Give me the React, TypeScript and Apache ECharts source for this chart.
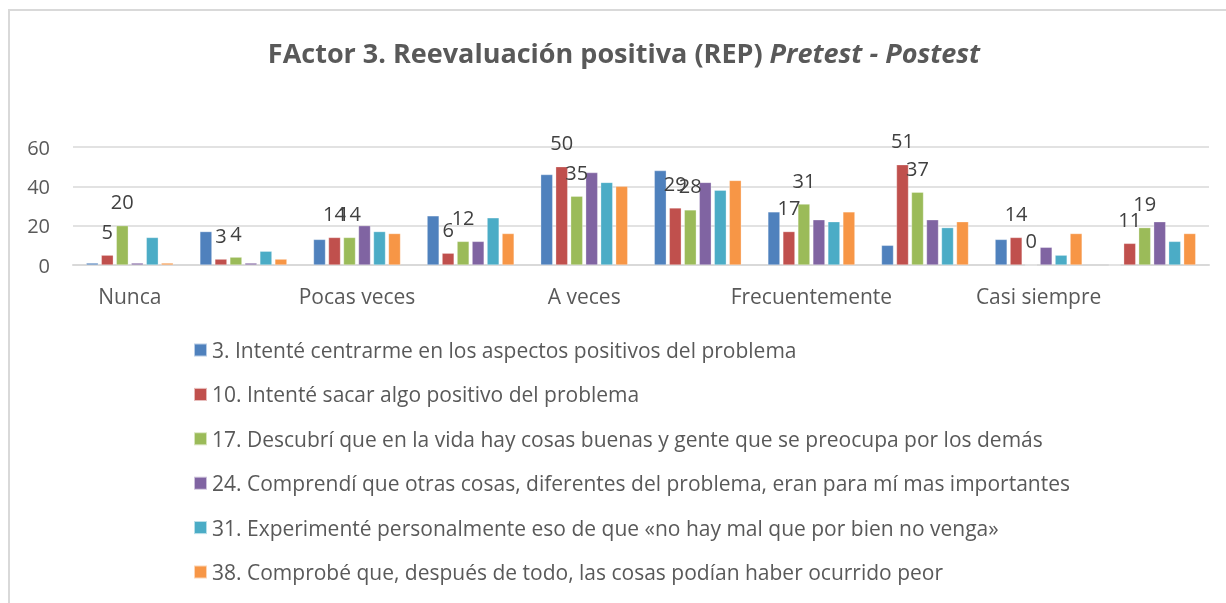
import React, { useEffect, useRef } from "react";
import * as echarts from "echarts";

const categories = ["Nunca", "", "Pocas veces", "", "A veces", "", "Frecuentemente", "", "Casi siempre", ""];
const seriesNames = [
  "3. Intenté centrarme en los aspectos positivos del problema",
  "10. Intenté sacar algo positivo del problema",
  "17. Descubrí que en la vida hay cosas buenas y gente que se preocupa por los demás",
  "24. Comprendí que otras cosas, diferentes del problema, eran para mí mas importantes",
  "31. Experimenté personalmente eso de que «no hay mal que por bien no venga»",
  "38. Comprobé que, después de todo, las cosas podían haber ocurrido peor",
];
const item3 = [1, 17, 13, 25, 46, 48, 27, 10, 13, 0];
const item10 = [5, 3, 14, 6, 50, 29, 17, 51, 14, 11];
const item17 = [20, 4, 14, 12, 35, 28, 31, 37, 0, 19];
const item24 = [1, 1, 20, 12, 47, 42, 23, 23, 9, 22];
const item31 = [14, 7, 17, 24, 42, 38, 22, 19, 5, 12];
const item38 = [1, 3, 16, 16, 40, 43, 27, 22, 16, 16];
const colors = ["#4F81BD", "#C0504D", "#9BBB59", "#8064A2", "#4BACC6", "#F79646"];
const labeled = [false, true, true, false, false, false];
const yTicks = { min: 0, max: 60, interval: 20 };

const FONT = "'Open Sans', 'Noto Sans', sans-serif";

export default function App() {
  const ref = useRef<HTMLDivElement>(null);
  useEffect(() => {
    document.body.style.overflow = "hidden";
    const chart = echarts.init(ref.current!, null, { renderer: "svg" });
    const data = [item3, item10, item17, item24, item31, item38];
    chart.setOption({
      animation: false,
      textStyle: { fontFamily: FONT },
      color: colors,
      graphic: [
        { type: "line", shape: { x1: 8, y1: 10, x2: 1226, y2: 10 }, style: { stroke: "#D9D9D9", lineWidth: 2 } },
        { type: "line", shape: { x1: 9, y1: 9, x2: 9, y2: 603 }, style: { stroke: "#D9D9D9", lineWidth: 2 } },
        {
          type: "text",
          x: 624,
          y: 52,
          style: {
            text: "{b|FActor 3. Reevaluación positiva (REP) }{i|Pretest - Postest}",
            align: "center",
            verticalAlign: "middle",
            rich: {
              b: { fontFamily: FONT, fontWeight: "bold", fontSize: 27, fill: "#595959" },
              i: { fontFamily: FONT, fontWeight: "bold", fontStyle: "italic", fontSize: 27, fill: "#595959" },
            },
          },
        },
      ],
      grid: { left: 73, right: 17, top: 147, bottom: 338, containLabel: false },
      legend: {
        orient: "vertical",
        left: 188,
        top: 334,
        itemWidth: 13,
        itemHeight: 13,
        itemGap: 22.4,
        icon: "rect",
        textStyle: { fontSize: 21, color: "#595959", lineHeight: 22, fontFamily: FONT },
        data: seriesNames,
      },
      xAxis: {
        type: "category",
        data: categories,
        axisLine: { lineStyle: { color: "#D9D9D9", width: 2 } },
        axisTick: { show: false },
        axisLabel: { interval: 0, fontSize: 21, color: "#595959", margin: 20, fontFamily: FONT },
      },
      yAxis: {
        type: "value",
        min: yTicks.min,
        max: yTicks.max,
        interval: yTicks.interval,
        axisLine: { show: false },
        axisTick: { show: false },
        splitLine: { lineStyle: { color: "#D9D9D9", width: 1.5 } },
        axisLabel: { fontSize: 20, color: "#595959", margin: 23, fontFamily: FONT },
      },
      series: seriesNames.map((name, i) => ({
        name,
        type: "bar",
        data: data[i],
        barWidth: 12,
        barGap: "25%",
        itemStyle: { color: colors[i], borderColor: "rgba(255,255,255,0.6)", borderWidth: 0.5 },
        label: {
          show: labeled[i],
          position: "top",
          distance: 14,
          fontSize: 20,
          color: "#404040",
          fontFamily: FONT,
        },
      })),
    });
    return () => chart.dispose();
  }, []);
  return <div ref={ref} style={{ position: "fixed", left: 0, top: 0, width: 1226, height: 603 }} />;
}
